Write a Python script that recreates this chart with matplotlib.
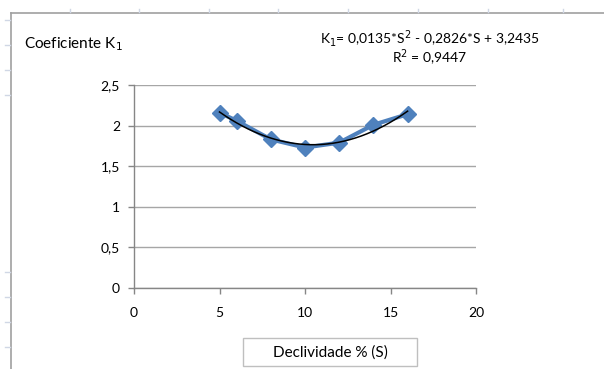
import matplotlib
matplotlib.use("Agg")
import matplotlib.pyplot as plt
import numpy as np
from matplotlib.patches import Rectangle
from matplotlib.lines import Line2D

# Data
slope = [5, 6, 8, 10, 12, 14, 16]
k1 = [2.16, 2.06, 1.83, 1.73, 1.79, 2.01, 2.14]
coef = [0.0135, -0.2826, 3.2435]  # trendline K1 = a*S^2 + b*S + c
x_ticks = [0, 5, 10, 15, 20]
y_ticks = [0, 0.5, 1, 1.5, 2, 2.5]
y_tick_labels = ["0", "0,5", "1", "1,5", "2", "2,5"]

plt.rcParams['font.family'] = ['Lato', 'DejaVu Sans']

W, H = 604, 369
fig = plt.figure(figsize=(W / 100, H / 100), dpi=100)
ax = fig.add_axes([134 / W, (H - 288) / H, (476 - 134) / W, (288 - 85) / H])

blue = "#4F81BD"
ax.plot(slope, k1, color=blue, lw=3, marker="D", ms=8, mfc=blue, mec=blue, zorder=3)
xs = np.linspace(min(slope), max(slope), 200)
ax.plot(xs, np.polyval(coef, xs), color="black", lw=1.1, zorder=4)

ax.set_xlim(0, 20)
ax.set_ylim(0, 2.5)
ax.set_xticks(x_ticks)
ax.set_xticklabels([str(t) for t in x_ticks])
ax.set_yticks(y_ticks)
ax.set_yticklabels(y_tick_labels)
ax.yaxis.grid(True, color="#A6A6A6", lw=1)
ax.set_axisbelow(True)
for s in ["top", "right"]:
    ax.spines[s].set_visible(False)
for s in ["left", "bottom"]:
    ax.spines[s].set_color("#868686")
    ax.spines[s].set_linewidth(1)
ax.tick_params(axis="both", colors="#868686", labelcolor="black", labelsize=10,
               length=4, width=1, direction="out")
ax.tick_params(axis="x", pad=10)
ax.tick_params(axis="y", pad=6)

# Texts
fig.text(24 / W, 1 - 44 / H, "Coeficiente K$_1$", fontsize=11, ha="left", va="center")
fig.text(430 / W, 1 - 38 / H, "K$_1$= 0,0135*S$^2$ - 0,2826*S + 3,2435", fontsize=10,
         ha="center", va="center")
fig.text(430 / W, 1 - 58 / H, "R$^2$ = 0,9447", fontsize=10, ha="center", va="center")

# x-label box
fig.patches.append(Rectangle((243 / W, 1 - 366 / H), (417 - 243) / W, (366 - 338) / H,
                             transform=fig.transFigure, fill=False, ec="#BFBFBF", lw=1))
fig.text(330 / W, 1 - 353 / H, "Declividade % (S)", fontsize=11, ha="center", va="center")

# chart frame (top and left)
fig.lines.append(Line2D([11 / W, 1], [1 - 13 / H, 1 - 13 / H], transform=fig.transFigure,
                        color="#A0A0A0", lw=1.2))
fig.lines.append(Line2D([11 / W, 11 / W], [0, 1 - 13 / H], transform=fig.transFigure,
                        color="#A0A0A0", lw=1.2))
# spreadsheet cell marks
for yy in [20, 45, 70, 95, 272, 297, 322, 347]:
    fig.lines.append(Line2D([5 / W, 10 / W], [1 - yy / H] * 2, transform=fig.transFigure,
                            color="#D0D7E5", lw=1))
for xx in [70, 139, 209, 278, 348, 418, 488, 563]:
    fig.lines.append(Line2D([xx / W] * 2, [1 - 9 / H, 1 - 12 / H], transform=fig.transFigure,
                            color="#D0D7E5", lw=1))

fig.savefig("out.png", dpi=100)
